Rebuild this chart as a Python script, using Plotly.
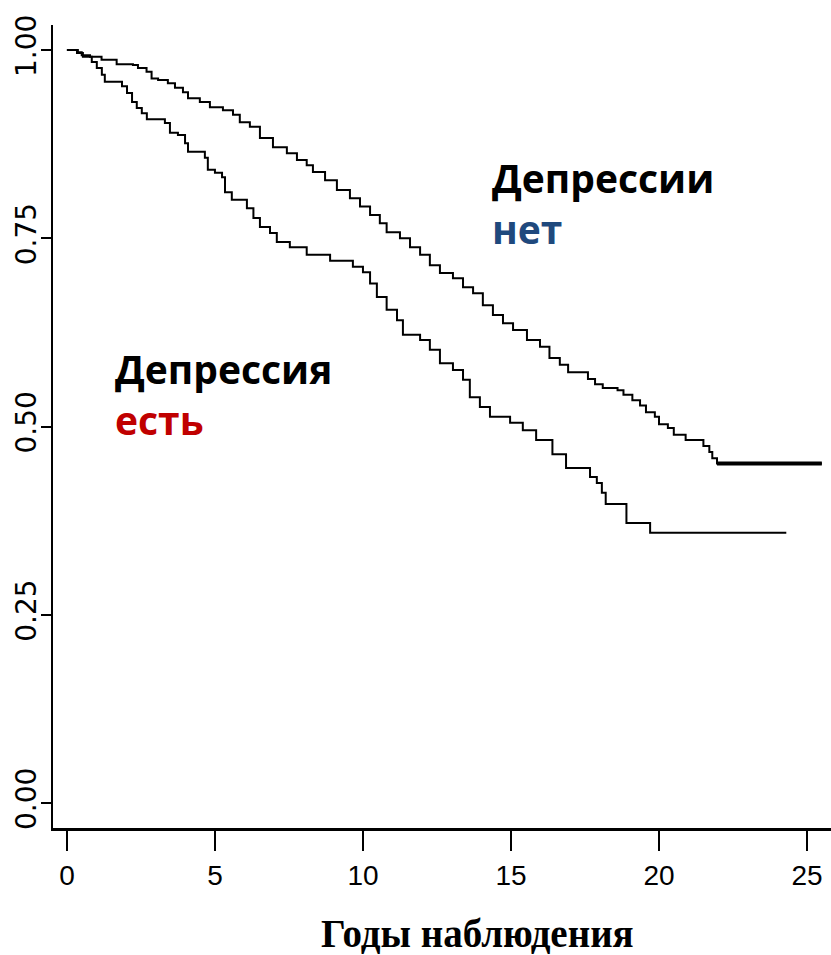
import plotly.graph_objects as go

# Kaplan-Meier survival estimates (years of follow-up vs. survival fraction)
t_no_dep = [0, 0.37, 0.5, 0.78, 1.17, 1.68, 2.23, 2.4, 2.69, 2.86, 3.08, 3.41, 3.65, 3.92,
            4.09, 4.49, 4.83, 5.27, 5.61, 5.84, 6.18, 6.52, 6.96, 7.43, 7.77, 8.1, 8.31,
            8.72, 9.12, 9.56, 9.9, 10.24, 10.57, 10.8, 11.25, 11.59, 11.93, 12.26, 12.6,
            13.04, 13.38, 13.72, 14.05, 14.39, 14.73, 15.07, 15.54, 15.98, 16.3, 16.65,
            16.93, 17.6, 17.84, 18.1, 18.6, 18.8, 19.1, 19.36, 19.56, 19.86, 20.0, 20.3,
            20.5, 20.9, 21.5, 21.7, 21.8, 21.96, 25.5]
s_no_dep = [1.0, 0.997, 0.993, 0.991, 0.987, 0.981, 0.980, 0.976, 0.971, 0.962, 0.960,
            0.956, 0.950, 0.944, 0.936, 0.931, 0.924, 0.920, 0.914, 0.904, 0.898, 0.883,
            0.871, 0.863, 0.854, 0.847, 0.838, 0.827, 0.814, 0.803, 0.792, 0.781, 0.770,
            0.758, 0.750, 0.738, 0.728, 0.714, 0.704, 0.697, 0.685, 0.677, 0.661, 0.648,
            0.637, 0.628, 0.615, 0.606, 0.591, 0.582, 0.572, 0.563, 0.556, 0.551, 0.548,
            0.542, 0.535, 0.528, 0.519, 0.513, 0.503, 0.498, 0.489, 0.482, 0.474, 0.466,
            0.458, 0.451, 0.451]

t_dep = [0, 0.34, 0.54, 0.84, 1.01, 1.18, 1.28, 1.86, 2.03, 2.2, 2.36, 2.53, 2.7, 3.31,
         3.48, 3.75, 3.99, 4.09, 4.66, 4.76, 5.0, 5.24, 5.34, 5.57, 6.08, 6.3, 6.52, 6.86,
         7.09, 7.53, 8.1, 8.89, 9.66, 10.0, 10.24, 10.47, 10.8, 11.15, 11.35, 11.93, 12.26,
         12.6, 13.04, 13.38, 13.61, 13.95, 14.29, 14.97, 15.4, 15.85, 16.4, 16.86, 17.67,
         17.9, 18.07, 18.2, 18.9, 19.7, 24.3]
s_dep = [1.0, 0.996, 0.991, 0.984, 0.976, 0.967, 0.958, 0.952, 0.943, 0.931, 0.923, 0.916,
         0.908, 0.903, 0.890, 0.887, 0.876, 0.865, 0.857, 0.841, 0.837, 0.831, 0.811, 0.801,
         0.790, 0.777, 0.765, 0.757, 0.745, 0.738, 0.728, 0.720, 0.712, 0.705, 0.690, 0.672,
         0.655, 0.641, 0.622, 0.615, 0.602, 0.584, 0.575, 0.562, 0.539, 0.526, 0.513, 0.505,
         0.495, 0.482, 0.463, 0.445, 0.433, 0.425, 0.412, 0.397, 0.372, 0.359, 0.359]

x_ticks = [0, 5, 10, 15, 20, 25]
y_ticks = [0.0, 0.25, 0.5, 0.75, 1.0]
y_tick_text = ["0.00", "0.25", "0.50", "0.75", "1.00"]
x_title = "Годы наблюдения"

fig = go.Figure()
fig.add_trace(go.Scatter(x=t_no_dep, y=s_no_dep, mode="lines", line_shape="hv",
                         line=dict(color="black", width=2), showlegend=False,
                         hoverinfo="skip"))
# censored tail plateau drawn heavier (stacked censoring marks)
fig.add_trace(go.Scatter(x=t_no_dep[-2:], y=s_no_dep[-2:], mode="lines",
                         line=dict(color="black", width=4), showlegend=False,
                         hoverinfo="skip"))
fig.add_trace(go.Scatter(x=t_dep, y=s_dep, mode="lines", line_shape="hv",
                         line=dict(color="black", width=2), showlegend=False,
                         hoverinfo="skip"))

label_font = dict(family="Open Sans, sans-serif", size=39, color="black")
group_labels = [
    dict(text="<b>Депрессии</b><br><b><span style='color:#1F497D'>нет</span></b>",
         x=14.3, y=0.868),
    dict(text="<b>Депрессия</b><br><b><span style='color:#C00000'>есть</span></b>",
         x=1.57, y=0.6155),
]
for g in group_labels:
    fig.add_annotation(x=g["x"], y=g["y"], xref="x", yref="y", text=g["text"],
                       showarrow=False, xanchor="left", yanchor="top", align="left",
                       font=label_font)

fig.add_annotation(x=0.546, y=(828 - 933) / 803, xref="paper", yref="paper",
                   text="<b>" + x_title + "</b>",
                   showarrow=False, xanchor="center", yanchor="middle",
                   font=dict(family="Liberation Serif, Times New Roman, serif",
                             size=39, color="black"))

fig.update_layout(
    width=831, height=955,
    margin=dict(l=53, r=0, t=25, b=127),
    paper_bgcolor="white", plot_bgcolor="white",
    xaxis=dict(range=[-0.47, 25.81], tickvals=x_ticks, ticks="outside", ticklen=20,
               tickwidth=2, tickcolor="black", showline=True, linewidth=3,
               linecolor="black", showgrid=False, zeroline=False,
               tickfont=dict(family="Liberation Sans Narrow, Arial Narrow, sans-serif",
                             size=28, color="black"),
               ticklabelstandoff=0),
    yaxis=dict(range=[-0.0332, 1.0332], tickvals=y_ticks, ticktext=y_tick_text,
               ticks="outside", ticklen=10, tickwidth=2, tickcolor="black",
               showline=True, linewidth=2, linecolor="black", showgrid=False,
               zeroline=False, tickangle=-90,
               tickfont=dict(family="DejaVu Sans, sans-serif", size=28, color="black"),
               ticklabelstandoff=-6),
)

fig.write_html("out.html")
